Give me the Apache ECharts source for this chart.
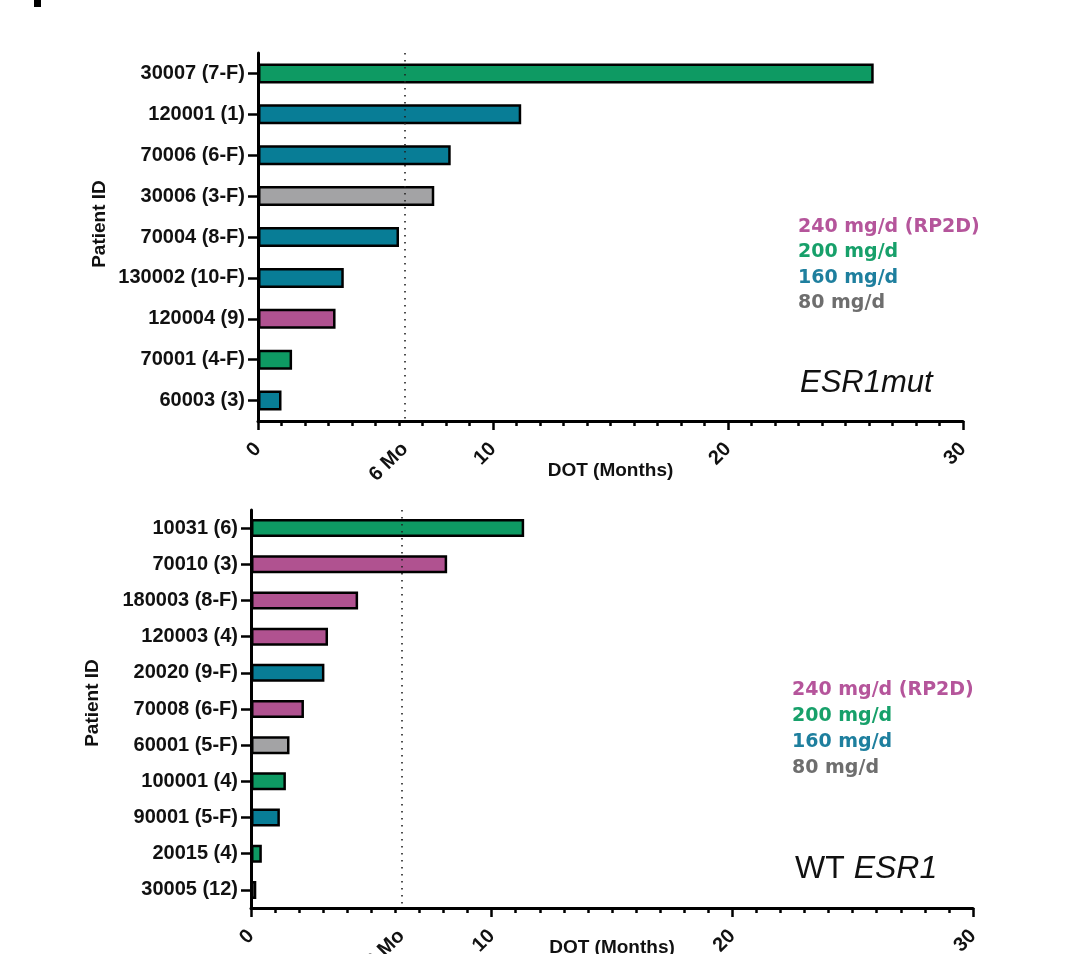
<!DOCTYPE html>
<html>
<head>
<meta charset="utf-8">
<style>
  html, body { margin: 0; padding: 0; background: #ffffff; }
  #chart { width: 1077px; height: 954px; }
</style>
<script src="https://cdn.jsdelivr.net/npm/echarts@6/dist/echarts.min.js"></script>
</head>
<body>
<div id="chart"></div>
<script>
// ---------- data ----------
const esrCategories = ['30007 (7-F)', '120001 (1)', '70006 (6-F)', '30006 (3-F)', '70004 (8-F)', '130002 (10-F)', '120004 (9)', '70001 (4-F)', '60003 (3)'];
const esrValues     = [26.2, 11.2, 8.2, 7.5, 6.0, 3.65, 3.3, 1.45, 1.0];
const esrDoses      = ['200', '160', '160', '80', '160', '160', '240', '200', '160'];

const wtCategories = ['10031 (6)', '70010 (3)', '180003 (8-F)', '120003 (4)', '20020 (9-F)', '70008 (6-F)', '60001 (5-F)', '100001 (4)', '90001 (5-F)', '20015 (4)', '30005 (12)'];
const wtValues     = [11.35, 8.15, 4.45, 3.2, 3.05, 2.2, 1.6, 1.45, 1.2, 0.45, 0.22];
const wtDoses      = ['200', '240', '240', '240', '160', '240', '80', '200', '160', '200', '80'];

const xTickValues = [0, 6.25, 10, 20, 30];
const xTickLabels = ['0', '6 Mo', '10', '20', '30'];
const sixMonthMark = 6.25;

const legendDoses  = ['240', '200', '160', '80'];
const legendLabels = ['240 mg/d (RP2D)', '200 mg/d', '160 mg/d', '80 mg/d'];

// ---------- styles ----------
const FONT = '"Liberation Sans", Arial, sans-serif';
const barColor  = { '240': '#B05290', '200': '#0E9A63', '160': '#087D96', '80': '#A3A3A5' };
const textColor = { '240': '#B5559B', '200': '#17A06A', '160': '#1E7F9E', '80': '#6E6E6E' };

function barData(values, doses) {
  return values.map((v, i) => ({ value: v, itemStyle: { color: barColor[doses[i]] } }));
}

function xAxisCfg(gridIndex, nameGap) {
  return {
    type: 'value', gridIndex: gridIndex, min: 0, max: 30, interval: 10,
    name: 'DOT (Months)', nameLocation: 'middle', nameGap: nameGap, nameMoveOverlap: false,
    nameTextStyle: { fontFamily: FONT, fontWeight: 'bold', fontSize: 19, color: '#111' },
    axisLine: { show: true, onZero: false, lineStyle: { color: '#000', width: 3 } },
    axisTick: { show: true, length: 9, lineStyle: { color: '#000', width: 2.5 } },
    minorTick: { show: true, splitNumber: 10, length: 5, lineStyle: { color: '#000', width: 2.5 } },
    splitLine: { show: false },
    minorSplitLine: { show: false },
    axisLabel: {
      customValues: xTickValues,
      formatter: function (v) { const i = xTickValues.indexOf(v); return i >= 0 ? xTickLabels[i] : ''; },
      rotate: 45, margin: 25, fontFamily: FONT, fontWeight: 'bold', fontSize: 20, color: '#111'
    }
  };
}

function yAxisCfg(gridIndex, cats) {
  return {
    type: 'category', gridIndex: gridIndex, data: cats, inverse: true,
    axisLine: { show: true, lineStyle: { color: '#000', width: 3 } },
    axisTick: { show: true, alignWithLabel: true, length: 10, lineStyle: { color: '#000', width: 2.5 } },
    axisLabel: { margin: 13, fontFamily: FONT, fontWeight: 'bold', fontSize: 20, color: '#111' },
    splitLine: { show: false }
  };
}

function markSeries(idx) {
  return {
    type: 'line', xAxisIndex: idx, yAxisIndex: idx, data: [], z: 1, silent: true,
    markLine: {
      silent: true, symbol: ['none', 'none'], label: { show: false },
      lineStyle: { color: '#222', width: 1.6, type: [1.6, 5.4] },
      data: [{ xAxis: sixMonthMark }]
    }
  };
}

function legendTexts(x, ys) {
  return legendDoses.map((d, i) => ({
    type: 'text', x: x, y: ys[i],
    style: { text: legendLabels[i], fill: textColor[d], font: 'bold 19px "DejaVu Sans", sans-serif', verticalAlign: 'middle', align: 'left' }
  }));
}

function patientIdText(x, y) {
  return {
    type: 'text', x: x, y: y, rotation: Math.PI / 2,
    style: { text: 'Patient ID', fill: '#111', font: 'bold 19px "Liberation Sans", Arial, sans-serif', align: 'center', verticalAlign: 'middle' }
  };
}

const option = {
  backgroundColor: '#ffffff',
  animation: false,
  grid: [
    { left: 258, right: 114, top: 53, height: 368, containLabel: false, outerBoundsMode: 'none' },
    { left: 251, right: 104, top: 510, height: 398, containLabel: false, outerBoundsMode: 'none' }
  ],
  xAxis: [xAxisCfg(0, 40), xAxisCfg(1, 30)],
  yAxis: [yAxisCfg(0, esrCategories), yAxisCfg(1, wtCategories)],
  series: [
    markSeries(0),
    markSeries(1),
    {
      type: 'bar', xAxisIndex: 0, yAxisIndex: 0, z: 3, barWidth: 20,
      itemStyle: { borderColor: '#000', borderWidth: 2.5 },
      data: barData(esrValues, esrDoses)
    },
    {
      type: 'bar', xAxisIndex: 1, yAxisIndex: 1, z: 3, barWidth: 18,
      itemStyle: { borderColor: '#000', borderWidth: 2.5 },
      data: barData(wtValues, wtDoses)
    }
  ],
  graphic: [
    { type: 'rect', shape: { x: 34, y: 0, width: 7, height: 7 }, style: { fill: '#000' } },
    patientIdText(100, 224),
    patientIdText(93, 703),
    ...legendTexts(798, [227, 252, 278, 303]),
    ...legendTexts(792, [690, 716, 742, 768]),
    {
      type: 'text', x: 800, y: 383,
      style: { text: 'ESR1mut', fill: '#111', font: 'italic 31px "Liberation Sans", Arial, sans-serif', verticalAlign: 'middle', align: 'left' }
    },
    {
      type: 'text', x: 795, y: 869,
      style: {
        text: '{n|WT }{i|ESR1}', verticalAlign: 'middle', align: 'left',
        rich: {
          n: { fontFamily: FONT, fontSize: 32, fill: '#111', color: '#111' },
          i: { fontFamily: FONT, fontSize: 32, fontStyle: 'italic', fill: '#111', color: '#111' }
        }
      }
    }
  ]
};

const chart = echarts.init(document.getElementById('chart'), null, { renderer: 'canvas' });
chart.setOption(option);
</script>
</body>
</html>
